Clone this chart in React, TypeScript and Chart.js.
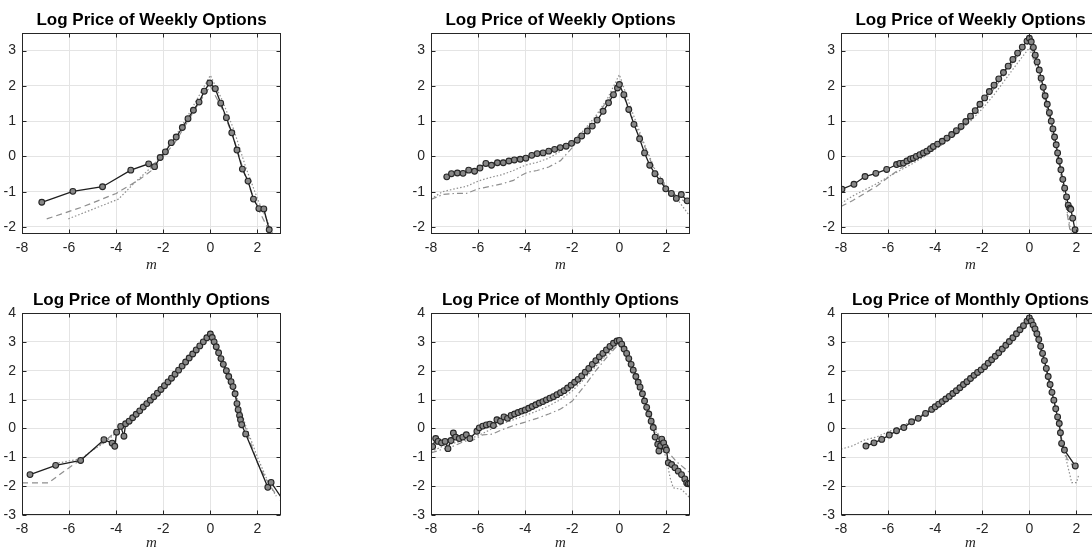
import React, { useEffect, useRef } from "react";
import { Chart, registerables } from "chart.js";
Chart.register(...registerables);

// ---------- tick labels / text ----------
const xTicks = [-8, -6, -4, -2, 0, 2];
const weeklyYTicks = [-2, -1, 0, 1, 2, 3];
const monthlyYTicks = [-3, -2, -1, 0, 1, 2, 3, 4];
const weeklyTitle = "Log Price of Weekly Options";
const monthlyTitle = "Log Price of Monthly Options";
const xLabel = "m";

// ---------- data: [m, log price] ----------
const weeklyA_model = [
  [-7.16, -1.3], [-5.84, -0.99], [-4.58, -0.86], [-3.38, -0.39], [-2.62, -0.21], [-2.37, -0.29],
  [-2.13, -0.03], [-1.91, 0.13], [-1.66, 0.39], [-1.45, 0.55], [-1.19, 0.82], [-0.95, 1.07],
  [-0.72, 1.31], [-0.48, 1.54], [-0.26, 1.85], [-0.03, 2.08], [0.21, 1.92], [0.44, 1.51],
  [0.68, 1.1], [0.91, 0.67], [1.13, 0.18], [1.36, -0.36], [1.6, -0.7], [1.83, -1.21],
  [2.06, -1.48], [2.27, -1.49], [2.5, -2.08],
];
const weeklyA_dashed = [
  [-6.95, -1.77], [-5.5, -1.45], [-4, -1.05], [-3, -0.65], [-2.4, -0.35], [-2, 0.0], [-1.5, 0.4],
  [-1, 0.95], [-0.5, 1.5], [0, 2.0], [0.5, 1.35], [1, 0.5], [1.5, -0.6], [2, -1.45], [2.45, -2.05],
];
const weeklyA_dotted = [
  [-6.03, -1.77], [-5, -1.5], [-3.9, -1.21], [-3.3, -0.8], [-2.5, -0.3], [-2, 0.1], [-1.5, 0.55],
  [-1, 1.1], [-0.5, 1.7], [0, 2.3], [0.5, 1.6], [1, 0.75], [1.5, -0.3], [2, -1.2], [2.4, -1.8], [2.65, -2.2],
];

const weeklyB_model = [
  [-7.33, -0.58], [-7.13, -0.49], [-6.88, -0.47], [-6.64, -0.48], [-6.4, -0.39], [-6.15, -0.42],
  [-5.92, -0.33], [-5.67, -0.2], [-5.43, -0.25], [-5.18, -0.18], [-4.93, -0.18], [-4.69, -0.13],
  [-4.46, -0.1], [-4.21, -0.08], [-3.97, -0.05], [-3.72, 0.03], [-3.49, 0.08], [-3.24, 0.1],
  [-3.0, 0.15], [-2.75, 0.2], [-2.51, 0.25], [-2.26, 0.29], [-2.03, 0.37], [-1.79, 0.46],
  [-1.6, 0.58], [-1.36, 0.72], [-1.15, 0.86], [-0.94, 1.03], [-0.69, 1.28], [-0.46, 1.52],
  [-0.25, 1.75], [-0.08, 1.94], [0.0, 2.04], [0.19, 1.75], [0.4, 1.33], [0.62, 0.91],
  [0.86, 0.5], [1.07, 0.1], [1.29, -0.25], [1.51, -0.49], [1.74, -0.7], [1.97, -0.92],
  [2.21, -1.05], [2.42, -1.19], [2.63, -1.08], [2.88, -1.26],
];
const weeklyB_dotted = [
  [-8, -1.2], [-7.5, -1.0], [-7, -0.92], [-6.5, -0.85], [-6, -0.7], [-5.5, -0.6], [-5, -0.52],
  [-4.5, -0.4], [-4, -0.25], [-3.5, -0.17], [-3, -0.05], [-2.5, 0.15], [-2, 0.42], [-1.5, 0.75],
  [-1, 1.15], [-0.5, 1.65], [0, 2.32], [0.5, 1.35], [1, 0.45], [1.5, -0.35], [2, -0.85],
  [2.5, -1.25], [3, -1.7],
];
const weeklyB_dashdot = [
  [-8, -1.22], [-7.5, -1.08], [-7, -1.05], [-6.5, -1.05], [-6, -0.92], [-5.5, -0.85], [-5, -0.78],
  [-4.5, -0.68], [-4.2, -0.55], [-3.9, -0.45], [-3.5, -0.4], [-3, -0.3], [-2.5, -0.12], [-2, 0.25],
  [-1.5, 0.68], [-1, 1.1], [-0.5, 1.6], [0, 2.0], [0.5, 1.2], [1, 0.4], [1.5, -0.4], [2, -0.9],
  [2.5, -1.15], [3, -1.38],
];

const weeklyC_model = [
  [-7.96, -0.93], [-7.45, -0.79], [-6.98, -0.57], [-6.52, -0.48], [-6.06, -0.37], [-5.64, -0.23],
  [-5.5, -0.2], [-5.35, -0.19], [-5.2, -0.13], [-5.05, -0.07], [-4.93, -0.05], [-4.8, 0.0],
  [-4.65, 0.05], [-4.5, 0.1], [-4.35, 0.15], [-4.2, 0.22], [-4.08, 0.28], [-3.9, 0.35],
  [-3.7, 0.43], [-3.5, 0.52], [-3.3, 0.62], [-3.1, 0.73], [-2.9, 0.85], [-2.7, 0.99],
  [-2.5, 1.14], [-2.3, 1.3], [-2.1, 1.48], [-1.9, 1.66], [-1.7, 1.84], [-1.5, 2.02],
  [-1.3, 2.2], [-1.1, 2.38], [-0.9, 2.56], [-0.7, 2.75], [-0.5, 2.93], [-0.3, 3.1],
  [-0.1, 3.27], [0.0, 3.35], [0.08, 3.25], [0.17, 3.09], [0.25, 2.87], [0.33, 2.68],
  [0.42, 2.45], [0.5, 2.22], [0.59, 1.96], [0.67, 1.72], [0.76, 1.48], [0.85, 1.24],
  [0.93, 1.0], [1.0, 0.78], [1.07, 0.55], [1.14, 0.33], [1.2, 0.1], [1.27, -0.13],
  [1.34, -0.38], [1.42, -0.65], [1.5, -0.9], [1.58, -1.15], [1.65, -1.38], [1.72, -1.47],
  [1.76, -1.5], [1.84, -1.75], [1.94, -2.08],
];
const weeklyC_dashed = [
  [-8, -1.42], [-7.5, -1.25], [-7, -1.05], [-6.5, -0.85], [-6, -0.6], [-5.5, -0.35], [-5, -0.15],
  [-4.5, 0.05], [-4, 0.27], [-3.5, 0.5], [-3, 0.8], [-2.5, 1.12], [-2, 1.5], [-1.5, 1.92],
  [-1, 2.38], [-0.5, 2.85], [0, 3.25], [0.3, 2.7], [0.6, 1.85], [0.9, 1.0], [1.2, 0.05],
  [1.4, -0.7], [1.6, -1.6], [1.75, -2.2],
];
const weeklyC_dotted = [
  [-8, -1.33], [-7.5, -1.12], [-7, -0.95], [-6.5, -0.78], [-6, -0.58], [-5.5, -0.4], [-5, -0.22],
  [-4.5, -0.02], [-4, 0.2], [-3.5, 0.43], [-3, 0.7], [-2.5, 1.0], [-2, 1.35], [-1.5, 1.75],
  [-1, 2.2], [-0.5, 2.65], [0, 3.08], [0.3, 2.5], [0.6, 1.7], [0.9, 0.85], [1.2, -0.05],
  [1.4, -0.75], [1.6, -1.55], [1.8, -2.25],
];

const monthlyA_model = [
  [-7.66, -1.6], [-6.57, -1.28], [-5.51, -1.11], [-4.52, -0.39], [-4.17, -0.51], [-4.06, -0.62],
  [-3.98, -0.13], [-3.81, 0.07], [-3.67, -0.27], [-3.6, 0.16], [-3.45, 0.25], [-3.3, 0.37],
  [-3.15, 0.49], [-3.0, 0.61], [-2.85, 0.74], [-2.7, 0.86], [-2.55, 0.98], [-2.4, 1.1],
  [-2.25, 1.22], [-2.1, 1.35], [-1.95, 1.48], [-1.8, 1.61], [-1.65, 1.74], [-1.5, 1.88],
  [-1.35, 2.02], [-1.2, 2.16], [-1.05, 2.3], [-0.9, 2.44], [-0.75, 2.58], [-0.6, 2.72],
  [-0.45, 2.86], [-0.3, 3.0], [-0.15, 3.14], [0.0, 3.27], [0.08, 3.15], [0.16, 3.0],
  [0.25, 2.83], [0.35, 2.62], [0.45, 2.42], [0.55, 2.22], [0.68, 2.0], [0.78, 1.8],
  [0.88, 1.62], [0.96, 1.45], [1.05, 1.2], [1.13, 0.86], [1.18, 0.65], [1.24, 0.45],
  [1.28, 0.3], [1.33, 0.13], [1.5, -0.19], [2.44, -2.04], [2.58, -1.87], [3.1, -2.5],
];
const monthlyA_dashed = [
  [-8, -1.89], [-6.88, -1.89], [-6.4, -1.6], [-5.9, -1.3], [-5.5, -1.09], [-5, -0.75], [-4.5, -0.45],
  [-4, -0.1], [-3.5, 0.2], [-3, 0.6], [-2, 1.45], [-1, 2.35], [0, 3.2], [0.5, 2.3], [1, 1.3],
  [1.5, 0.0], [2, -1.2], [2.5, -1.95], [2.8, -2.3],
];
const monthlyA_dotted = [
  [-6.6, -1.22], [-5.5, -1.05], [-5, -0.75], [-4.5, -0.5], [-4, -0.15], [-3, 0.58], [-2, 1.42],
  [-1, 2.3], [0, 3.2], [0.5, 2.35], [1, 1.4], [1.5, 0.1], [2, -1.0], [2.5, -1.95], [2.8, -2.35],
];

const monthlyB_model = [
  [-7.93, -0.63], [-7.8, -0.35], [-7.7, -0.45], [-7.55, -0.5], [-7.4, -0.45], [-7.28, -0.7],
  [-7.15, -0.42], [-7.05, -0.16], [-6.95, -0.3], [-6.8, -0.35], [-6.65, -0.3], [-6.5, -0.22],
  [-6.35, -0.35], [-6.05, -0.1], [-5.95, 0.02], [-5.8, 0.08], [-5.65, 0.12], [-5.5, 0.15],
  [-5.35, 0.1], [-5.2, 0.3], [-5.05, 0.25], [-4.9, 0.4], [-4.75, 0.35], [-4.6, 0.45],
  [-4.45, 0.5], [-4.3, 0.55], [-4.15, 0.6], [-4.0, 0.64], [-3.85, 0.7], [-3.7, 0.76],
  [-3.55, 0.82], [-3.4, 0.88], [-3.25, 0.93], [-3.1, 0.99], [-2.95, 1.05], [-2.8, 1.1],
  [-2.65, 1.17], [-2.5, 1.24], [-2.35, 1.31], [-2.2, 1.4], [-2.05, 1.5], [-1.9, 1.6],
  [-1.75, 1.7], [-1.6, 1.82], [-1.45, 1.95], [-1.3, 2.08], [-1.15, 2.22], [-1.0, 2.35],
  [-0.85, 2.48], [-0.7, 2.6], [-0.55, 2.72], [-0.4, 2.84], [-0.25, 2.95], [-0.1, 3.03],
  [0.0, 3.05], [0.1, 2.92], [0.2, 2.75], [0.31, 2.6], [0.4, 2.42], [0.5, 2.22], [0.59, 2.02],
  [0.7, 1.8], [0.8, 1.6], [0.88, 1.43], [0.98, 1.2], [1.07, 0.95], [1.16, 0.73], [1.25, 0.5],
  [1.35, 0.25], [1.44, 0.03], [1.52, -0.3], [1.63, -0.55], [1.68, -0.78], [1.75, -0.6],
  [1.8, -0.37], [1.88, -0.5], [1.95, -0.66], [2.0, -0.75], [2.08, -1.19], [2.22, -1.25],
  [2.36, -1.36], [2.5, -1.48], [2.64, -1.6], [2.78, -1.75], [2.86, -1.89], [2.93, -1.92], [3.0, -1.91],
];
const monthlyB_dotted = [
  [-8, -0.8], [-7.5, -0.62], [-7, -0.5], [-6.5, -0.4], [-6, -0.25], [-5.5, -0.05], [-5, 0.15],
  [-4.5, 0.3], [-4, 0.45], [-3.5, 0.6], [-3, 0.78], [-2.5, 1.0], [-2, 1.3], [-1.5, 1.7],
  [-1, 2.15], [-0.5, 2.58], [0, 2.98], [0.5, 2.2], [1, 1.2], [1.5, 0.0], [1.8, -0.7],
  [2.0, -1.01], [2.15, -1.7], [2.29, -2.06], [2.64, -2.11], [3, -2.41],
];
const monthlyB_dashdot = [
  [-8, -0.85], [-7.5, -0.72], [-7, -0.6], [-6.6, -0.45], [-6.2, -0.4], [-5.8, -0.22], [-5.4, -0.2],
  [-5, -0.05], [-4.5, 0.1], [-4, 0.22], [-3.5, 0.35], [-3, 0.5], [-2.5, 0.67], [-2, 0.95],
  [-1.5, 1.45], [-1, 2.0], [-0.5, 2.5], [0, 2.95], [0.5, 2.2], [1, 1.2], [1.5, 0.1],
  [1.8, -0.5], [2.0, -0.75], [2.4, -1.13], [3, -1.54],
];

const monthlyC_model = [
  [-6.94, -0.61], [-6.6, -0.5], [-6.27, -0.38], [-5.95, -0.23], [-5.64, -0.08], [-5.33, 0.03],
  [-5.0, 0.23], [-4.72, 0.35], [-4.41, 0.52], [-4.15, 0.66], [-4.0, 0.75], [-3.85, 0.84],
  [-3.7, 0.93], [-3.55, 1.02], [-3.4, 1.11], [-3.25, 1.21], [-3.1, 1.31], [-2.95, 1.41],
  [-2.8, 1.52], [-2.65, 1.62], [-2.5, 1.73], [-2.35, 1.84], [-2.2, 1.94], [-2.05, 2.03],
  [-1.9, 2.14], [-1.75, 2.26], [-1.6, 2.38], [-1.45, 2.5], [-1.3, 2.62], [-1.15, 2.75],
  [-1.0, 2.88], [-0.85, 3.01], [-0.7, 3.14], [-0.55, 3.28], [-0.4, 3.42], [-0.25, 3.56],
  [-0.1, 3.72], [0.0, 3.83], [0.08, 3.72], [0.16, 3.58], [0.24, 3.45], [0.32, 3.28],
  [0.4, 3.08], [0.48, 2.85], [0.56, 2.6], [0.64, 2.35], [0.72, 2.08], [0.8, 1.8],
  [0.88, 1.52], [0.96, 1.25], [1.04, 0.98], [1.12, 0.68], [1.2, 0.4], [1.27, 0.17],
  [1.32, -0.15], [1.37, -0.52], [1.49, -0.75], [1.95, -1.3],
];
const monthlyC_dashed = [
  [-4.5, 0.45], [-4, 0.7], [-3.5, 0.98], [-3, 1.3], [-2.5, 1.65], [-2, 2.0], [-1.5, 2.38],
  [-1, 2.8], [-0.5, 3.25], [0, 3.68], [0.3, 3.2], [0.6, 2.38], [0.9, 1.4], [1.2, 0.35],
  [1.4, -0.5], [1.6, -1.05], [1.9, -1.35],
];
const monthlyC_dotted = [
  [-8, -0.72], [-7.5, -0.6], [-7, -0.4], [-6.5, -0.3], [-6, -0.12], [-5.5, 0.05], [-5, 0.25],
  [-4.5, 0.5], [-4, 0.72], [-3.5, 1.0], [-3, 1.35], [-2.5, 1.7], [-2, 2.02], [-1.5, 2.42],
  [-1, 2.85], [-0.5, 3.3], [0, 3.72], [0.3, 3.25], [0.6, 2.4], [0.9, 1.45], [1.2, 0.4],
  [1.4, -0.5], [1.6, -1.2], [1.8, -1.88], [2.0, -1.88], [2.1, -1.6],
];

// ---------- styles ----------
const M_L = 40, M_T = 36, M_R = 15, M_B = 46;
const FONT = '"Liberation Sans", Arial, Helvetica, sans-serif';

type Kind = "model" | "dashed" | "dotted" | "dashdot";
const styleFor = (kind: Kind) => {
  if (kind === "model")
    return {
      borderColor: "#1e1e1e", borderWidth: 1.3, pointRadius: 2.9, pointBorderWidth: 1.1,
      pointBackgroundColor: "#878787", pointBorderColor: "#262626",
    };
  const dash = kind === "dashed" ? [6, 4] : kind === "dotted" ? [1.5, 2] : [6, 3, 1.5, 3];
  return { borderColor: "#8f8f8f", borderWidth: 1.2, borderDash: dash, pointRadius: 0 };
};

type Panel = {
  title: string; left: number; top: number; width: number; height: number;
  yMin: number; yMax: number; yTicks: number[]; labelGap: number;
  series: { kind: Kind; pts: number[][] }[];
};

const TOP_Y = 33, TOP_H = 201, BOT_Y = 313, BOT_H = 202, PW = 259;
const COLS = [22, 431, 841];

const panels: Panel[] = [
  { title: weeklyTitle, left: COLS[0], top: TOP_Y, width: PW, height: TOP_H, yMin: -2.2, yMax: 3.5, yTicks: weeklyYTicks, labelGap: 31,
    series: [{ kind: "model", pts: weeklyA_model }, { kind: "dashed", pts: weeklyA_dashed }, { kind: "dotted", pts: weeklyA_dotted }] },
  { title: weeklyTitle, left: COLS[1], top: TOP_Y, width: PW, height: TOP_H, yMin: -2.2, yMax: 3.5, yTicks: weeklyYTicks, labelGap: 31,
    series: [{ kind: "model", pts: weeklyB_model }, { kind: "dotted", pts: weeklyB_dotted }, { kind: "dashdot", pts: weeklyB_dashdot }] },
  { title: weeklyTitle, left: COLS[2], top: TOP_Y, width: PW, height: TOP_H, yMin: -2.2, yMax: 3.5, yTicks: weeklyYTicks, labelGap: 31,
    series: [{ kind: "model", pts: weeklyC_model }, { kind: "dashed", pts: weeklyC_dashed }, { kind: "dotted", pts: weeklyC_dotted }] },
  { title: monthlyTitle, left: COLS[0], top: BOT_Y, width: PW, height: BOT_H, yMin: -3, yMax: 4, yTicks: monthlyYTicks, labelGap: 28,
    series: [{ kind: "model", pts: monthlyA_model }, { kind: "dashed", pts: monthlyA_dashed }, { kind: "dotted", pts: monthlyA_dotted }] },
  { title: monthlyTitle, left: COLS[1], top: BOT_Y, width: PW, height: BOT_H, yMin: -3, yMax: 4, yTicks: monthlyYTicks, labelGap: 28,
    series: [{ kind: "model", pts: monthlyB_model }, { kind: "dotted", pts: monthlyB_dotted }, { kind: "dashdot", pts: monthlyB_dashdot }] },
  { title: monthlyTitle, left: COLS[2], top: BOT_Y, width: PW, height: BOT_H, yMin: -3, yMax: 4, yTicks: monthlyYTicks, labelGap: 28,
    series: [{ kind: "model", pts: monthlyC_model }, { kind: "dashed", pts: monthlyC_dashed }, { kind: "dotted", pts: monthlyC_dotted }] },
];

function PanelChart({ p }: { p: Panel }) {
  const ref = useRef<HTMLCanvasElement>(null);
  const W = p.width + M_L + M_R;
  const H = p.height + M_T + M_B;
  useEffect(() => {
    const frame = {
      id: "frame",
      afterDraw(chart: any) {
        const { ctx, chartArea: a, scales } = chart;
        const L = Math.round(a.left) + 0.5, R = Math.round(a.right) - 0.5;
        const T = Math.round(a.top) + 0.5, B = Math.round(a.bottom) - 0.5;
        ctx.save();
        ctx.strokeStyle = "#262626";
        ctx.lineWidth = 1;
        ctx.beginPath();
        xTicks.forEach((v) => {
          const x = Math.round(scales.x.getPixelForValue(v)) + 0.5;
          ctx.moveTo(x, B); ctx.lineTo(x, B - 4);
          ctx.moveTo(x, T); ctx.lineTo(x, T + 4);
        });
        p.yTicks.forEach((v) => {
          const y = Math.round(scales.y.getPixelForValue(v)) + 0.5;
          ctx.moveTo(L, y); ctx.lineTo(L + 4, y);
          ctx.moveTo(R, y); ctx.lineTo(R - 4, y);
        });
        ctx.stroke();
        ctx.strokeRect(L, T, R - L, B - T);
        const cx = (a.left + a.right) / 2;
        ctx.fillStyle = "#000";
        ctx.textAlign = "center";
        ctx.textBaseline = "middle";
        ctx.font = `bold 17px ${FONT}`;
        ctx.fillText(p.title, cx, a.top - 12.5);
        ctx.fillStyle = "#262626";
        ctx.font = `italic 15px "Liberation Serif", "DejaVu Serif", serif`;
        ctx.fillText(xLabel, cx, a.bottom + p.labelGap);
        ctx.restore();
      },
    };
    const chart = new Chart(ref.current as HTMLCanvasElement, {
      type: "scatter",
      data: {
        datasets: p.series.map((s) => ({
          data: s.pts.map(([x, y]) => ({ x, y })),
          showLine: true,
          tension: 0,
          ...styleFor(s.kind),
        })) as any,
      },
      options: {
        animation: false,
        responsive: false,
        maintainAspectRatio: false,
        devicePixelRatio: 1,
        layout: { padding: { top: M_T, right: M_R, left: 0, bottom: 0 } },
        plugins: { legend: { display: false }, tooltip: { enabled: false }, title: { display: false } },
        scales: {
          x: {
            type: "linear", min: -8, max: 3,
            afterBuildTicks: (s: any) => { s.ticks = xTicks.map((v) => ({ value: v })); },
            afterFit: (s: any) => { s.height = M_B; },
            grid: { color: "#e4e4e4", lineWidth: 1, drawTicks: false },
            border: { display: false },
            ticks: { padding: 6, color: "#262626", font: { family: FONT, size: 14 }, maxRotation: 0, autoSkip: false },
          },
          y: {
            type: "linear", min: p.yMin, max: p.yMax,
            afterBuildTicks: (s: any) => { s.ticks = p.yTicks.map((v) => ({ value: v })); },
            afterFit: (s: any) => { s.width = M_L; },
            grid: { color: "#e4e4e4", lineWidth: 1, drawTicks: false },
            border: { display: false },
            ticks: { padding: 6, color: "#262626", font: { family: FONT, size: 14 }, autoSkip: false },
          },
        },
      } as any,
      plugins: [frame],
    });
    return () => chart.destroy();
  }, []);
  return (
    <canvas
      ref={ref}
      width={W}
      height={H}
      style={{ position: "absolute", left: p.left - M_L, top: p.top - M_T, width: W, height: H }}
    />
  );
}

export default function App() {
  return (
    <div style={{ position: "fixed", left: 0, top: 0, width: 1092, height: 549, overflow: "hidden", background: "#fff" }}>
      {panels.map((p, i) => (
        <PanelChart key={i} p={p} />
      ))}
    </div>
  );
}
